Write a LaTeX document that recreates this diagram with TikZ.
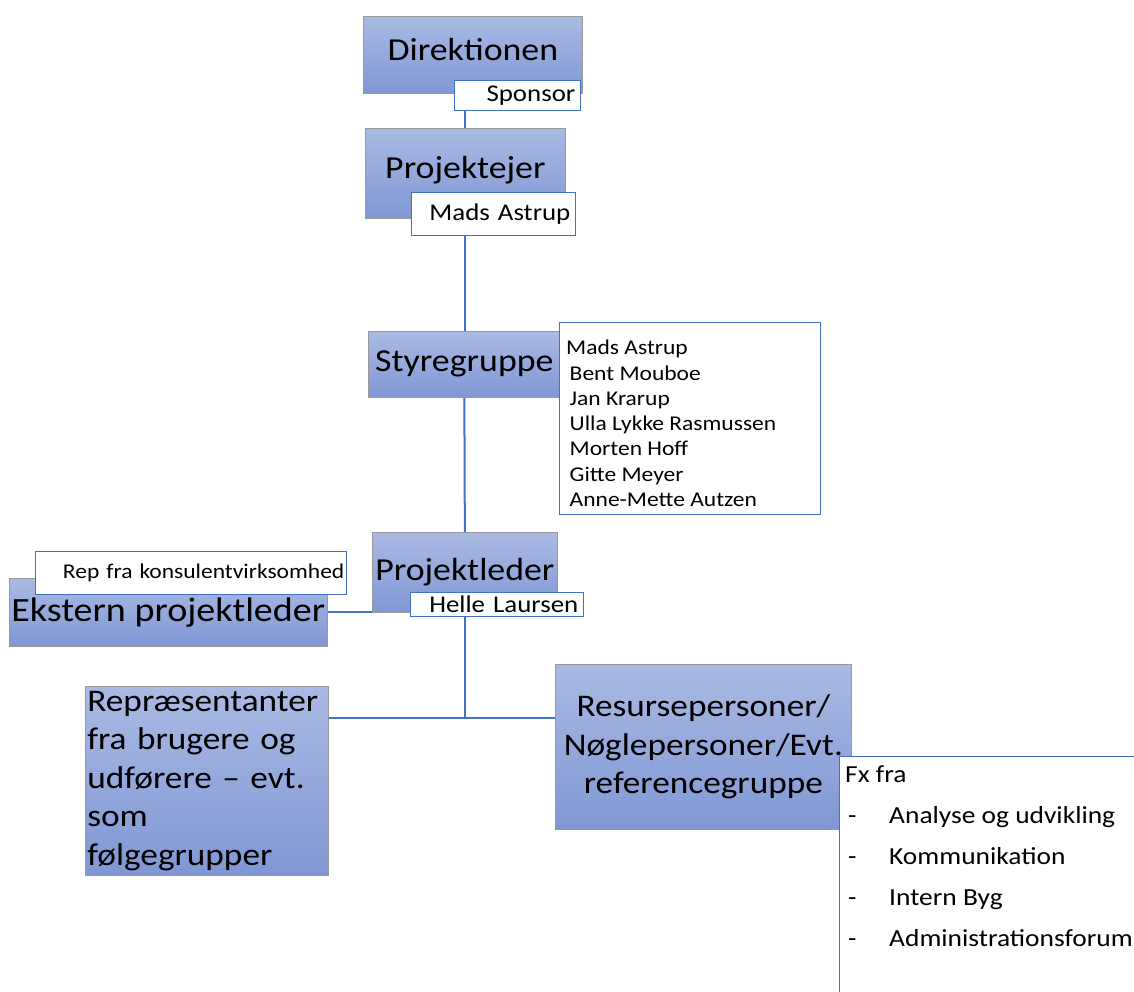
\documentclass[tikz,border=0pt]{standalone}
\usepackage{fontspec}
\setmainfont{Carlito}[FakeStretch=1.12]
\usetikzlibrary{positioning,calc}
\definecolor{boxtop}{HTML}{AABAE3}
\definecolor{boxbot}{HTML}{8097D4}
\definecolor{linkblue}{HTML}{4472C4}
\pgfdeclarelayer{edgelayer}
\pgfsetlayers{edgelayer,main}
\newcommand{\ttlfont}{\fontsize{32}{38}\selectfont}
\newcommand{\midfont}{\fontsize{31.5}{38.5}\selectfont}
\newcommand{\labfont}{\fontsize{24}{28}\selectfont}
\newcommand{\lstfont}{\fontsize{21}{25.3}\selectfont}
\tikzstyle{unit}=[draw=gray!80, line width=0.7pt, top color=boxtop, bottom color=boxbot, inner sep=2pt, anchor=north west]
\tikzstyle{lift}=[text depth=11pt]
\tikzstyle{tag}=[draw=linkblue, line width=0.7pt, fill=white, inner xsep=4pt, inner ysep=0pt, anchor=north west, align=right, font=\labfont]
\tikzstyle{plain}=[anchor=north west, align=left, inner sep=0pt]
\tikzstyle{link}=[draw=linkblue, line width=2pt]

\begin{document}
\begin{tikzpicture}[x=1pt, y=-1pt]
  \useasboundingbox (0,0) rectangle (1134,991);
  \clip (0,0) rectangle (1134,991);

  % hierarchy
  \node[unit, lift, font=\ttlfont, minimum width=219, minimum height=77] (dir) at (363,16) {Direktionen};
  \node[tag, minimum width=126, minimum height=30, text width=116] (sponsor) at (454,80) {Sponsor};
  \node[unit, lift, font=\ttlfont, minimum width=200, minimum height=90] (proj) at (365,128) {Projektejer};
  \node[tag, minimum width=164, minimum height=43, text width=154] (ejer) at (411,192) {Mads Astrup};
  \node[unit, font=\ttlfont, minimum width=192, minimum height=66] (styre) at (368,331) {Styregruppe};
  \node[tag, minimum width=261, minimum height=192] (medl) at (559,322) {};
  \node[plain, font=\lstfont] (medltxt) at ($(medl.north west)+(7,18)$)
    {Mads Astrup\\ \,Bent Mouboe\\ \,Jan Krarup\\ \,Ulla Lykke Rasmussen\\ \,Morten Hoff\\ \,Gitte Meyer\\ \,Anne-Mette Autzen};
  \node[unit, font=\ttlfont, minimum width=185, minimum height=80] (leder) at (372,532) {Projektleder};
  \node[tag, minimum width=173, minimum height=24, text width=163] (helle) at (410,592) {Helle Laursen};

  % side units
  \node[unit, font=\fontsize{34}{40}\selectfont, minimum width=317, minimum height=68] (ekstern) at (9,578) {Ekstern projektleder};
  \node[tag, font=\fontsize{21}{26}\selectfont, inner xsep=2pt, minimum width=311, minimum height=43, text width=307] (rep) at (35,551) {Rep fra konsulentvirksomhed};
  \node[unit, font=\midfont, minimum width=243, minimum height=189, text width=239, align=left] (repr) at (85,686)
    {Repræsentanter\\ fra brugere og\\ udførere – evt.\\ som\\ følgegrupper};
  \node[unit, font=\midfont, minimum width=296, minimum height=165, align=center] (resurs) at (555,664)
    {Resursepersoner/\\ Nøglepersoner/Evt.\\ referencegruppe};
  \node[tag, minimum width=360, minimum height=300] (fx) at (839,756) {};
  \node[plain, font=\fontsize{24.5}{41}\selectfont] (fxtxt) at ($(fx.north west)+(6,9)$)
    {Fx fra\\
     \makebox[44pt][l]{\hspace{3pt}-}Analyse og udvikling\\
     \makebox[44pt][l]{\hspace{3pt}-}Kommunikation\\
     \makebox[44pt][l]{\hspace{3pt}-}Intern Byg\\
     \makebox[44pt][l]{\hspace{3pt}-}Administrationsforum};

  \coordinate (hub) at ($(leder.south)+(0,105)$);

  \begin{pgfonlayer}{edgelayer}
    \draw[link] (sponsor.south -| proj.north) -- (proj.north);
    \draw[link] (ejer.south -| proj.north) -- (styre.north -| proj.north);
    \draw[link] (styre.south) -- (leder.north);
    \draw[link] (ekstern.east) -- (ekstern.east -| leder.south);
    \draw[link] (leder.south) -- (hub);
    \draw[link] (hub -| repr.east) -- (hub -| resurs.west);
  \end{pgfonlayer}
\end{tikzpicture}
\end{document}
